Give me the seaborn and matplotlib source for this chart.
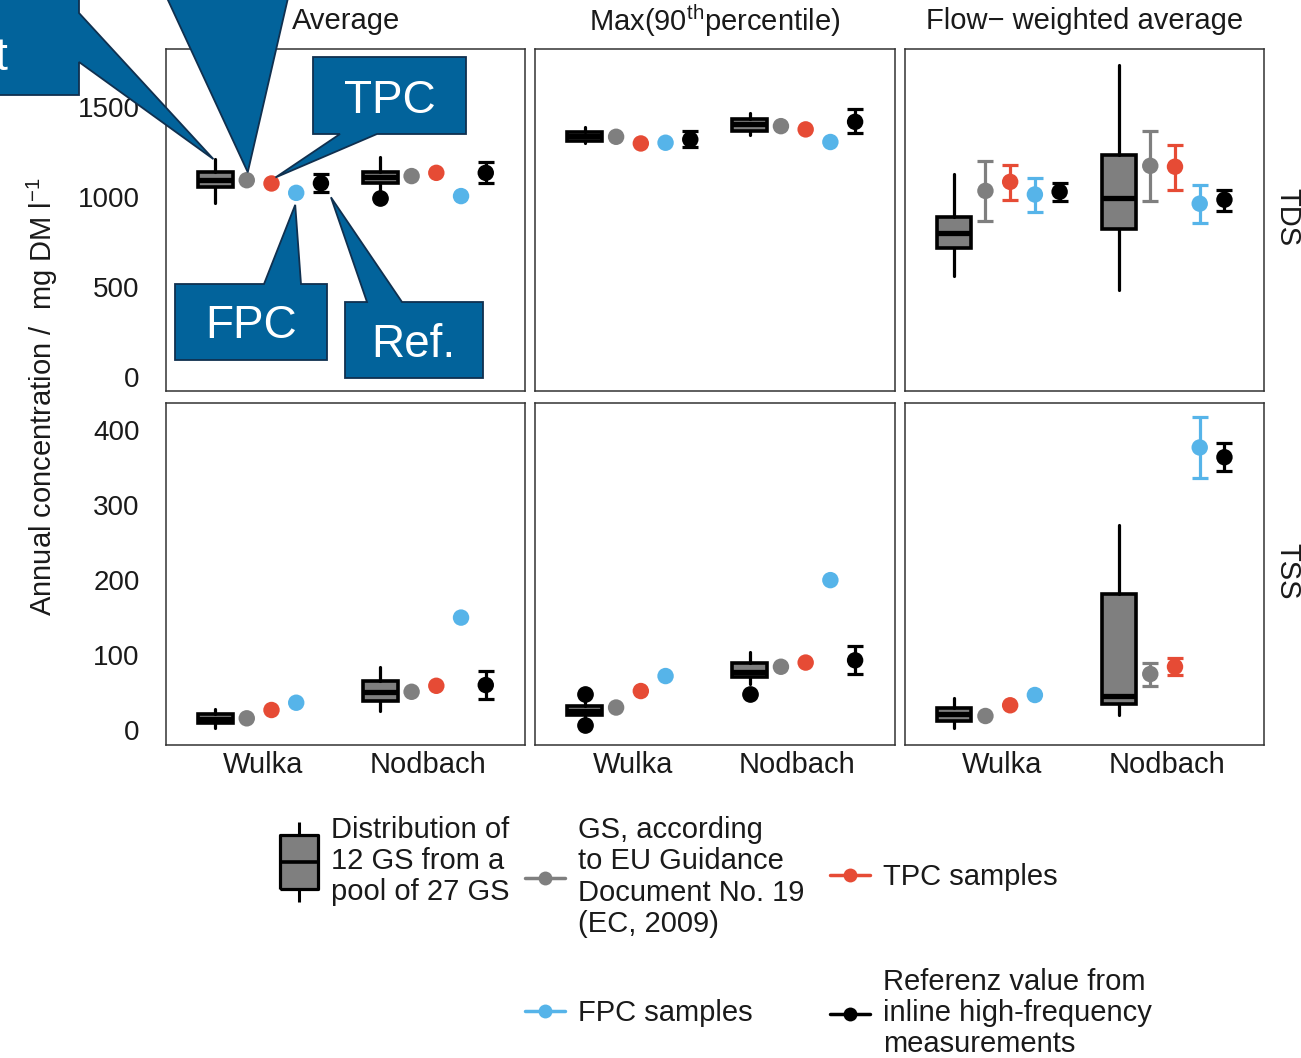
import matplotlib.pyplot as plt
import seaborn as sns
import pandas as pd
import numpy as np
from matplotlib.patches import Polygon
from matplotlib.lines import Line2D
from matplotlib.path import Path
from matplotlib.legend_handler import HandlerTuple

nan = np.nan

# Facets
params = ["TDS", "TSS"]
stats = ["Average", "Max", "Flow-weighted"]
stat_titles = ["Average", r"Max(90$^{\mathrm{th}}$percentile)", "Flow\u2212 weighted average"]
sites = ["Wulka", "Nodbach"]

# Box stats: [param][stat][site]  (distribution of 12 GS from a pool of 27 GS)
box_lo = [[[967, 1040], [1302, 1344], [561, 483]],
          [[3, 26], [12, 62], [3, 20]]]
box_q1 = [[[1056, 1080], [1313, 1368], [720, 822]],
          [[10, 39], [20, 71], [12, 35]]]
box_med = [[[1095, 1113], [1340, 1406], [802, 996]],
           [[15, 51], [26, 78], [22, 45]]]
box_q3 = [[[1139, 1141], [1363, 1436], [890, 1233]],
          [[21, 66], [32, 90], [29, 182]]]
box_hi = [[[1211, 1222], [1391, 1468], [1128, 1736]],
          [[28, 84], [40, 104], [43, 273]]]
box_fliers = [[[[], [994]], [[], []], [[], []]],
              [[[], []], [[6.7, 48], [48]], [[], []]]]

# GS according to EU Guidance Document No. 19
gs_val = [[[1094, 1117], [1335, 1394], [1035, 1174]],
          [[15.6, 51], [30, 84.4], [18.7, 74.7]]]
gs_lo = [[[nan, nan], [nan, nan], [869, 980]],
         [[nan, nan], [nan, nan], [nan, 58.7]]]
gs_hi = [[[nan, nan], [nan, nan], [1200, 1367]],
         [[nan, nan], [nan, nan], [nan, 90]]]

# TPC samples
tpc_val = [[[1076, 1135], [1298, 1376], [1085, 1169]],
           [[26.7, 59], [52, 90], [33, 84.4]]]
tpc_lo = [[[nan, nan], [nan, nan], [983, 1042]],
          [[nan, nan], [nan, nan], [nan, 73.3]]]
tpc_hi = [[[nan, nan], [nan, nan], [1181, 1292]],
          [[nan, nan], [nan, nan], [nan, 95.6]]]

# FPC samples
fpc_val = [[[1024, 1006], [1302, 1306], [1015, 964]],
           [[36.4, 150], [72, 200], [46.7, 377]]]
fpc_lo = [[[nan, nan], [nan, nan], [918, 859]],
          [[nan, nan], [nan, nan], [nan, 336]]]
fpc_hi = [[[nan, nan], [nan, nan], [1107, 1070]],
          [[nan, nan], [nan, nan], [nan, 418]]]

# Reference value from inline high-frequency measurements
ref_val = [[[1077, 1135], [1320, 1418], [1030, 986]],
           [[nan, 60], [nan, 93], [nan, 364]]]
ref_lo = [[[1030, 1080], [1276, 1357], [978, 924]],
          [[nan, 41], [nan, 75], [nan, 346]]]
ref_hi = [[[1128, 1194], [1368, 1487], [1076, 1042]],
          [[nan, 79], [nan, 112], [nan, 383]]]

methods = ["GS", "TPC", "FPC", "Ref"]
method_data = {"GS": (gs_val, gs_lo, gs_hi), "TPC": (tpc_val, tpc_lo, tpc_hi),
               "FPC": (fpc_val, fpc_lo, fpc_hi), "Ref": (ref_val, ref_lo, ref_hi)}
palette = {"GS": "#7f7f7f", "TPC": "#e64b35", "FPC": "#56b4e9", "Ref": "#000000"}
offsets = {"Box": -0.29, "GS": -0.10, "TPC": 0.05, "FPC": 0.20, "Ref": 0.35}

ylims = {"TDS": (-78, 1822), "TSS": (-20, 437)}
yticks = {"TDS": [0, 500, 1000, 1500], "TSS": [0, 100, 200, 300, 400]}

W, H = 1301, 1058
callout_color = "#02639b"
callout_edge = "#10304f"

# Long table of point estimates
rows = []
for pi, param in enumerate(params):
    for si, stat in enumerate(stats):
        for k, site in enumerate(sites):
            for m in methods:
                val, lo, hi = method_data[m]
                rows.append([param, stat, site, m, k + offsets[m],
                             val[pi][si][k], lo[pi][si][k], hi[pi][si][k]])
df = pd.DataFrame(rows, columns=["param", "stat", "site", "method", "x", "value", "lo", "hi"])

sns.set_style("white")
plt.rcParams["font.family"] = ["Liberation Sans", "DejaVu Sans"]
plt.rcParams["mathtext.fontset"] = "custom"
plt.rcParams["mathtext.rm"] = "Liberation Sans"
plt.rcParams["mathtext.it"] = "Liberation Sans:italic"
plt.rcParams["text.color"] = "#1a1a1a"

fig, axes = plt.subplots(2, 3, figsize=(W / 100, H / 100), dpi=100)
fig.subplots_adjust(left=166 / W, right=1264 / W, top=1 - 49 / H, bottom=1 - 745 / H,
                    wspace=10 / 359, hspace=11 / 342)

for pi, param in enumerate(params):
    for si, stat in enumerate(stats):
        ax = axes[pi][si]

        # Box plots from summary statistics
        bstats = [dict(whislo=box_lo[pi][si][k], q1=box_q1[pi][si][k], med=box_med[pi][si][k],
                       q3=box_q3[pi][si][k], whishi=box_hi[pi][si][k], fliers=box_fliers[pi][si][k])
                  for k in range(len(sites))]
        ax.bxp(bstats, positions=np.arange(len(sites)) + offsets["Box"], widths=0.21,
               patch_artist=True, showcaps=False, manage_ticks=False,
               boxprops=dict(facecolor="#7f7f7f", edgecolor="black", linewidth=2.6),
               medianprops=dict(color="black", linewidth=3.8),
               whiskerprops=dict(color="black", linewidth=2.3),
               flierprops=dict(marker="o", markerfacecolor="black", markeredgecolor="black",
                               markersize=11))

        sub = df[(df["param"] == param) & (df["stat"] == stat)]

        # Error bars
        for m in methods:
            eb = sub[(sub["method"] == m)].dropna(subset=["lo", "hi", "value"])
            if len(eb) == 0:
                continue
            ax.errorbar(eb["x"], eb["value"], yerr=[eb["value"] - eb["lo"], eb["hi"] - eb["value"]],
                        fmt="none", ecolor=palette[m], elinewidth=2.3, capsize=6, capthick=2.3,
                        zorder=3)

        # Points
        sns.scatterplot(data=sub.dropna(subset=["value"]), x="x", y="value", hue="method",
                        palette=palette, s=140, linewidth=0, legend=False, ax=ax, zorder=4)

        ax.set_xlim(-0.59, 1.59)
        ax.set_ylim(ylims[param])
        ax.set_xlabel("")
        ax.set_ylabel("")
        ax.set_xticks(range(len(sites)))
        ax.set_yticks(yticks[param])
        ax.tick_params(axis="x", length=0, pad=4, labelsize=21, labelcolor="#1a1a1a")
        ax.tick_params(axis="y", length=9, width=1.0, color="#333333", pad=10,
                       labelsize=20, labelcolor="#1a1a1a")
        if pi == len(params) - 1:
            ax.set_xticklabels(sites)
        else:
            ax.tick_params(axis="x", labelbottom=False)
        if si != 0:
            ax.tick_params(axis="y", left=False, labelleft=False)
        for sp in ax.spines.values():
            sp.set_color("#333333")
            sp.set_linewidth(1.1)

# Strip labels
for si, title in enumerate(stat_titles):
    pos = axes[0][si].get_position()
    fig.text((pos.x0 + pos.x1) / 2, 1 - 21 / H, title, ha="center", va="center", fontsize=21)
for pi, param in enumerate(params):
    pos = axes[pi][2].get_position()
    fig.text(1287 / W, (pos.y0 + pos.y1) / 2 + 3 / H, param, ha="center", va="center",
             rotation=270, fontsize=21)

fig.text(42 / W, 1 - 397 / H, r"Annual concentration /  mg DM l$^{-1}$", rotation=90,
         ha="center", va="center", fontsize=21)


# Callouts (pixel coordinates, origin top-left)
def to_px(ax, x, y, dx=0, dy=0):
    px, py = ax.transData.transform((x, y))
    return px + dx, H - py + dy


def callout(box, side, base, tip, text="", text_xy=None, ha="center"):
    x0, y0, x1, y1 = box
    a, b = base
    pts = [(x0, y0)]
    if side == "top":
        pts += [(a, y0), tip, (b, y0)]
    pts.append((x1, y0))
    if side == "right":
        pts += [(x1, a), tip, (x1, b)]
    pts.append((x1, y1))
    if side == "bottom":
        pts += [(b, y1), tip, (a, y1)]
    pts.append((x0, y1))
    poly = Polygon([(px / W, 1 - py / H) for px, py in pts], closed=True,
                   transform=fig.transFigure, facecolor=callout_color,
                   edgecolor=callout_edge, linewidth=1.3, zorder=10)
    fig.add_artist(poly)
    if text:
        fig.text(text_xy[0] / W, 1 - text_xy[1] / H, text, color="white", fontsize=33,
                 ha=ha, va="baseline", zorder=11)


ax0 = axes[0][0]
box_tip = to_px(ax0, offsets["Box"], box_hi[0][0][0], -2, 0)
gs_tip = to_px(ax0, offsets["GS"], gs_val[0][0][0], 1, -8)
tpc_tip = to_px(ax0, offsets["TPC"], tpc_val[0][0][0], 4, -6)
fpc_tip = to_px(ax0, offsets["FPC"], fpc_val[0][0][0], -1, 12)
ref_tip = to_px(ax0, offsets["Ref"], ref_val[0][0][0], 10, 14)

callout((-300, -20, 79, 95), "right", (13, 62), box_tip, "Boxplot", (8, 70), ha="right")
callout((60, -200, 420, -2), "bottom", (167, 288), gs_tip)
callout((313, 57, 466, 134), "bottom", (340, 377), tpc_tip, "TPC", (390, 113))
callout((175, 284, 327, 360), "top", (264, 301), fpc_tip, "FPC", (251, 338))
callout((345, 302, 483, 378), "top", (367, 402), ref_tip, "Ref.", (413, 357))


# Legend items
def add_item(handle, label, x, y, handlelength):
    leg = fig.legend([handle], [label], loc="center left", bbox_to_anchor=(x / W, 1 - y / H),
                     frameon=False, fontsize=21, handlelength=handlelength, handletextpad=0.45,
                     borderpad=0, borderaxespad=0,
                     handler_map={tuple: HandlerTuple(ndivide=1, pad=0)})
    for t in leg.get_texts():
        t.set_linespacing(1.15)
    return leg


rect = Path([(-0.35, -0.5), (0.35, -0.5), (0.35, 0.5), (-0.35, 0.5), (-0.35, -0.5)])
box_handle = (Line2D([], [], ls="none", marker="|", ms=58, mew=2.2, color="black"),
              Line2D([], [], ls="none", marker=rect, ms=39, mfc="#7f7f7f", mec="black", mew=2.3),
              Line2D([], [], ls="none", marker="_", ms=27, mew=2.6, color="black"))


def point_handle(c):
    return Line2D([], [], color=c, lw=2.5, marker="o", ms=10, mew=0)


add_item(box_handle, "Distribution of\n12 GS from a\npool of 27 GS", 280, 861, 1.3)
add_item(point_handle(palette["GS"]), "GS, according\nto EU Guidance\nDocument No. 19\n(EC, 2009)",
         525, 877, 1.37)
add_item(point_handle(palette["TPC"]), "TPC samples", 830, 877, 1.37)
add_item(point_handle(palette["FPC"]), "FPC samples", 525, 1013, 1.37)
add_item(point_handle(palette["Ref"]), "Referenz value from\ninline high-frequency\nmeasurements",
         830, 1013, 1.37)

fig.savefig("out.png", dpi=100)
